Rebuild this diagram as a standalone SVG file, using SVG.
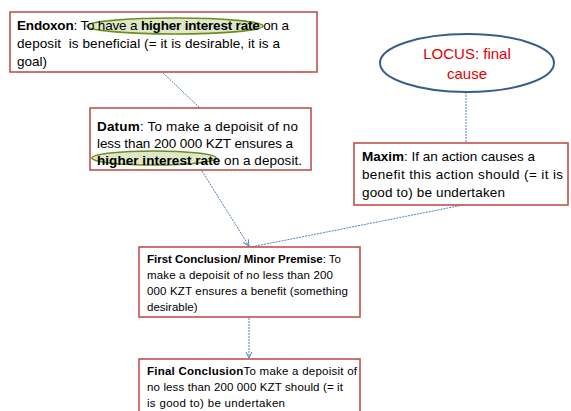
<svg xmlns="http://www.w3.org/2000/svg" width="571" height="411" viewBox="0 0 571 411">
<defs>
<marker id="arr" markerWidth="8" markerHeight="8" refX="7" refY="4" orient="auto" markerUnits="userSpaceOnUse">
<path d="M1,1 L7,4 L1,7" fill="none" stroke="#4f81bd" stroke-width="1"/>
</marker>
</defs>
<style>
.box{fill:#fff;stroke:#c0504d;stroke-width:1.6}
.t{font-family:"Liberation Sans",Arial,sans-serif;font-size:13.5px;fill:#000;white-space:pre}
.s{font-family:"Liberation Sans",Arial,sans-serif;font-size:11.5px;fill:#000}
.b{font-weight:bold}
.hl{fill:#c3d69b;fill-opacity:0.55;stroke:#6b8e23;stroke-width:1.6}
.c{fill:none;stroke:#4f81bd;stroke-width:1;stroke-dasharray:2 1}
.loc{font-family:"Liberation Sans",Arial,sans-serif;font-size:15px;fill:#e00000;text-anchor:middle}
</style>
<g id="connectors">
<line class="c" x1="163" y1="73" x2="200" y2="108"/>
<line class="c" x1="202" y1="171" x2="249" y2="246" marker-end="url(#arr)"/>
<line class="c" x1="463" y1="205" x2="251" y2="247"/>
<line class="c" x1="466" y1="92" x2="466" y2="143" stroke-dasharray="4 2"/>
<line class="c" x1="249" y1="318" x2="249" y2="358" marker-end="url(#arr)"/>
</g>
<g id="endoxon">
<rect class="box" x="10" y="12" width="307" height="60"/>
<ellipse class="hl" cx="175" cy="26" rx="88" ry="8"/>
<text class="t" x="17" y="30" textLength="272" lengthAdjust="spacing"><tspan class="b">Endoxon</tspan>: To have a <tspan class="b">higher interest rate</tspan> on a</text>
<text class="t" x="17" y="48" textLength="263" lengthAdjust="spacing">deposit  is beneficial (= it is desirable, it is a</text>
<text class="t" x="17" y="66">goal)</text>
</g>
<g id="datum">
<rect class="box" x="90" y="108" width="221" height="62"/>
<ellipse class="hl" cx="154" cy="158" rx="62" ry="7"/>
<text class="t" x="97" y="131" textLength="201" lengthAdjust="spacing"><tspan class="b">Datum</tspan>: To make a depoisit of no</text>
<text class="t" x="97" y="148" textLength="196" lengthAdjust="spacing">less than 200 000 KZT ensures a</text>
<text class="t" x="97" y="165" textLength="205" lengthAdjust="spacing"><tspan class="b">higher interest rate</tspan> on a deposit.</text>
</g>
<g id="locus">
<ellipse cx="467" cy="63" rx="87" ry="29" fill="#fff" stroke="#385d8a" stroke-width="2"/>
<text class="loc" x="467" y="59">LOCUS: final</text>
<text class="loc" x="467" y="79">cause</text>
</g>
<g id="maxim">
<rect class="box" x="354" y="143" width="214" height="62"/>
<text class="t" x="362" y="161" textLength="173" lengthAdjust="spacing"><tspan class="b">Maxim</tspan>: If an action causes a</text>
<text class="t" x="362" y="179" textLength="201" lengthAdjust="spacing">benefit this action should (= it is</text>
<text class="t" x="362" y="197" textLength="143" lengthAdjust="spacing">good to) be undertaken</text>
</g>
<g id="first">
<rect class="box" x="139" y="247" width="221" height="70"/>
<text class="s" x="147" y="263" textLength="194" lengthAdjust="spacing"><tspan class="b">First Conclusion/ Minor Premise</tspan>: To</text>
<text class="s" x="147" y="279" textLength="186" lengthAdjust="spacing">make a depoisit of no less than 200</text>
<text class="s" x="147" y="295" textLength="201" lengthAdjust="spacing">000 KZT ensures a benefit (something</text>
<text class="s" x="147" y="311">desirable)</text>
</g>
<g id="final">
<rect class="box" x="139" y="359" width="221" height="60"/>
<text class="s" x="147" y="375" textLength="210" lengthAdjust="spacing"><tspan class="b">Final Conclusion</tspan>To make a depoisit of</text>
<text class="s" x="147" y="391" textLength="196" lengthAdjust="spacing">no less than 200 000 KZT should (= it</text>
<text class="s" x="147" y="407" textLength="138" lengthAdjust="spacing">is good to) be undertaken</text>
</g>
</svg>
